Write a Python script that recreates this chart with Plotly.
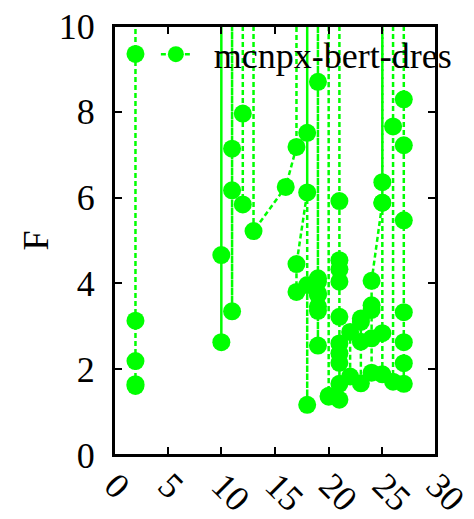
import plotly.graph_objects as go

# Value used where the curve leaves the top of the frame (F > 10)
H = 14.0

x_vals = [
    2, 2, 2, 2, 2, 2,
    10, 10, 10, 10,
    11, 11, 11, 11, 11,
    12, 12, 12, 12,
    13, 13, 16, 17, 17,
    18, 18, 18, 17, 17, 18, 18, 18,
    19, 19, 19, 19, 19, 19, 19, 19, 19, 19,
    20, 20, 20, 20,
    21, 21, 21, 21, 21, 21, 21, 21, 21, 21, 21,
    22, 22, 23, 23, 23, 23, 24, 24, 24, 24, 24, 25, 25, 25,
    25, 25, 25, 25, 26, 26, 26,
    27, 27, 27, 27, 27, 27, 27, 27,
]
f_vals = [
    1.61, 1.65, 2.19, 3.13, 9.35, H,
    H, 4.66, 2.63, H,
    H, 7.14, 6.17, 3.35, H,
    H, 7.96, 5.84, H,
    H, 5.22, 6.25, 7.18, H,
    H, 7.51, 6.12, 4.45, 3.80, 3.96, 1.17, H,
    H, 8.70, 4.12, 4.04, 3.77, 3.73, 3.46, 3.36, 2.55, H,
    H, 1.38, 1.36, H,
    H, 5.92, 4.54, 4.33, 4.04, 3.22, 2.60, 2.37, 2.15, 1.66, 1.29,
    1.83, 2.87, 3.18, 3.10, 2.64, 1.67, 1.92, 2.72, 3.38, 3.49, 4.06, 5.88, 6.36, H,
    H, 5.88, 2.84, 1.88, 1.71, 7.66, H,
    H, 8.29, 7.22, 5.47, 3.33, 2.63, 2.14, 1.66,
]

x_ticks = [0, 5, 10, 15, 20, 25, 30]
y_ticks = [0, 2, 4, 6, 8, 10]
X_RANGE = [0, 30]
Y_RANGE = [0, 10]

GREEN = "#00ff00"
FONT = "'Liberation Serif', 'Times New Roman', serif"
FS = 36
LINE = dict(color=GREEN, width=2.5, dash="5px,3px")
MARKER = dict(color=GREEN, size=18, line=dict(width=0))

# Line path limited to the frame: off-chart runs are broken, rises end at the top edge
YMAX = Y_RANGE[1]
line_x, line_y = [], []
prev_off = False
for xv, fv in zip(x_vals, f_vals):
    off = fv > YMAX
    if off and prev_off:
        line_x.append(None)
        line_y.append(None)
    line_x.append(xv)
    line_y.append(min(fv, YMAX))
    prev_off = off

pts_x = [xv for xv, fv in zip(x_vals, f_vals) if fv <= YMAX]
pts_y = [fv for fv in f_vals if fv <= YMAX]

fig = go.Figure()
fig.add_trace(go.Scatter(x=line_x, y=line_y, mode="lines", line=LINE,
                         showlegend=False, hoverinfo="skip"))
fig.add_trace(go.Scatter(x=pts_x, y=pts_y, mode="markers", marker=MARKER,
                         showlegend=False))
# Legend entry (line + point sample)
fig.add_trace(go.Scatter(x=[None], y=[None], mode="lines+markers",
                         name="\u00a0\u00a0mcnpx-bert-dres", line=LINE, marker=MARKER))

tick_common = dict(
    showgrid=False, zeroline=False, automargin=False,
    ticks="inside", ticklen=8, tickwidth=1.5, tickcolor="black",
    ticklabeloverflow="allow",
    tickfont=dict(family=FONT, size=FS, color="black"),
)

fig.update_layout(
    width=474, height=519,
    margin=dict(l=114, r=38, t=26, b=64),
    paper_bgcolor="white", plot_bgcolor="white",
    font=dict(family=FONT, size=FS, color="black"),
    showlegend=True,
    legend=dict(
        x=0.13, y=1.004, xanchor="left", yanchor="top",
        bgcolor="rgba(0,0,0,0)", borderwidth=0,
        font=dict(family=FONT, size=FS, color="black"),
    ),
    xaxis=dict(range=X_RANGE, tickvals=x_ticks, ticktext=[str(v) for v in x_ticks],
               tickangle=45, ticklabelstandoff=-7, ticklabelshift=1,
               showline=True, linecolor="black", linewidth=2, mirror="allticks",
               **tick_common),
    yaxis=dict(range=Y_RANGE, tickvals=y_ticks, ticktext=[str(v) for v in y_ticks],
               ticklabelstandoff=10,
               showline=True, linecolor="black", linewidth=2, mirror="allticks",
               **tick_common),
    xaxis2=dict(range=X_RANGE, tickvals=x_ticks, showticklabels=False,
                overlaying="x", side="top", **tick_common),
    yaxis2=dict(range=Y_RANGE, tickvals=y_ticks, showticklabels=False,
                overlaying="y", side="right", **tick_common),
    shapes=[dict(type="rect", xref="paper", yref="paper", x0=0, y0=0, x1=1, y1=1,
                 line=dict(color="black", width=2), layer="above")],
    annotations=[dict(text="F", xref="paper", yref="paper", x=-0.245, y=0.5,
                      xanchor="center", yanchor="middle", textangle=-90,
                      showarrow=False, font=dict(family=FONT, size=FS, color="black"))],
)

# Invisible trace to activate the top/right tick axes
fig.add_trace(go.Scatter(x=[None], y=[None], xaxis="x2", yaxis="y2",
                         showlegend=False, hoverinfo="skip"))

fig.write_html("out.html", config={"displayModeBar": False},
               post_script="document.body.style.margin='0';")
